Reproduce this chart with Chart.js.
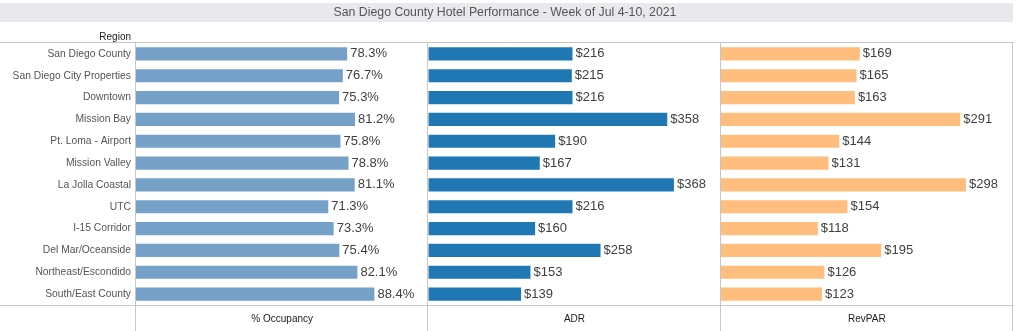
<!DOCTYPE html>
<html>
<head>
<meta charset="utf-8">
<script src="https://cdn.jsdelivr.net/npm/chart.js@4/dist/chart.umd.min.js"></script>
<style>
  html, body { margin: 0; padding: 0; background: #ffffff; }
  #wrap { position: relative; width: 1024px; height: 331px; }
</style>
</head>
<body>
<div id="wrap"><canvas id="chart" width="1024" height="331"></canvas></div>
<script>
// Hotel performance by region, week of Jul 4-10, 2021
const chartTitle = 'San Diego County Hotel Performance - Week of Jul 4-10, 2021';
const rowHeader = 'Region';
const regions = [
  'San Diego County', 'San Diego City Properties', 'Downtown', 'Mission Bay',
  'Pt. Loma - Airport', 'Mission Valley', 'La Jolla Coastal', 'UTC',
  'I-15 Corridor', 'Del Mar/Oceanside', 'Northeast/Escondido', 'South/East County'
];
const measures = ['% Occupancy', 'ADR', 'RevPAR'];
const occupancy = [78.3, 76.7, 75.3, 81.2, 75.8, 78.8, 81.1, 71.3, 73.3, 75.4, 82.1, 88.4];
const adr = [216, 215, 216, 358, 190, 167, 368, 216, 160, 258, 153, 139];
const revpar = [169, 165, 163, 291, 144, 131, 298, 154, 118, 195, 126, 123];

const FONT = "'Liberation Sans', Arial, sans-serif";
const LINE = '#c6c6c6';

const fmtPct = v => v.toFixed(1) + '%';
const fmtUsd = v => '$' + v;

// Each measure gets its own x scale; scales share one stack so they sit side by side.
function panelScale(title, max) {
  return {
    type: 'linear',
    position: 'bottom',
    stack: 'measures',
    stackWeight: 1,
    min: 0,
    max: max,
    grid: { display: false, drawTicks: false },
    border: { display: false },
    ticks: { display: false },
    title: {
      display: true,
      text: title,
      color: '#1a1a1a',
      font: { family: FONT, size: 10 },
      padding: { top: 0, bottom: 6 }
    },
    afterFit: s => { s.height = 26; }
  };
}

// Frame: title band, row header, panel borders
const framePlugin = {
  id: 'frame',
  beforeDraw(chart) {
    const ctx = chart.ctx;
    const area = chart.chartArea;
    ctx.save();
    ctx.fillStyle = '#e9e9ed';
    ctx.fillRect(0, 3, area.right, 19);
    ctx.fillStyle = '#555555';
    ctx.font = '12.3px ' + FONT;
    ctx.textAlign = 'center';
    ctx.textBaseline = 'middle';
    ctx.fillText(chartTitle, 505, 13);
    ctx.fillStyle = '#1a1a1a';
    ctx.font = '10px ' + FONT;
    ctx.textAlign = 'right';
    ctx.fillText(rowHeader, area.left - 5, 37);
    ctx.restore();
  },
  afterDraw(chart) {
    const ctx = chart.ctx;
    const area = chart.chartArea;
    const H = chart.height;
    ctx.save();
    ctx.strokeStyle = LINE;
    ctx.lineWidth = 1;
    ctx.beginPath();
    const top = area.top - 0.5;
    ctx.moveTo(0, top); ctx.lineTo(area.right + 0.5, top);
    ctx.moveTo(0, area.bottom + 0.5); ctx.lineTo(area.right + 0.5, area.bottom + 0.5);
    const xs = ['xOcc', 'xAdr', 'xRev'].map(id => chart.scales[id].left);
    xs.push(area.right);
    xs.forEach(x => {
      const px = Math.round(x) - 0.5;
      ctx.moveTo(px, top); ctx.lineTo(px, H);
    });
    ctx.stroke();
    ctx.restore();
  }
};

// Value labels at the end of each bar
const valueLabels = {
  id: 'valueLabels',
  afterDatasetsDraw(chart) {
    const ctx = chart.ctx;
    ctx.save();
    ctx.font = '13px ' + FONT;
    ctx.fillStyle = '#404040';
    ctx.textAlign = 'left';
    ctx.textBaseline = 'middle';
    chart.data.datasets.forEach((ds, i) => {
      const meta = chart.getDatasetMeta(i);
      meta.data.forEach((bar, j) => {
        ctx.fillText(ds.format(ds.data[j]), bar.x + 3, bar.y);
      });
    });
    ctx.restore();
  }
};

const barCommon = { grouped: false, categoryPercentage: 1, barPercentage: 0.6, borderWidth: 0 };

new Chart(document.getElementById('chart'), {
  type: 'bar',
  data: {
    labels: regions,
    datasets: [
      Object.assign({ label: measures[0], data: occupancy, xAxisID: 'xOcc', backgroundColor: '#75a1c8', format: fmtPct }, barCommon),
      Object.assign({ label: measures[1], data: adr, xAxisID: 'xAdr', backgroundColor: '#1f77b4', format: fmtUsd }, barCommon),
      Object.assign({ label: measures[2], data: revpar, xAxisID: 'xRev', backgroundColor: '#ffbe7d', format: fmtUsd }, barCommon)
    ]
  },
  options: {
    indexAxis: 'y',
    responsive: false,
    animation: false,
    devicePixelRatio: 1,
    layout: { padding: { top: 43, right: 11, left: 0, bottom: 0 } },
    plugins: {
      legend: { display: false },
      title: { display: false },
      tooltip: { enabled: false }
    },
    scales: {
      y: {
        type: 'category',
        position: 'left',
        grid: { display: false, drawTicks: false },
        border: { display: false },
        ticks: {
          color: '#555555',
          font: { family: FONT, size: 10.3 },
          padding: 5,
          autoSkip: false
        },
        afterFit: s => { s.width = 136; }
      },
      xOcc: panelScale(measures[0], 108.4),
      xAdr: panelScale(measures[1], 438),
      xRev: panelScale(measures[2], 355)
    }
  },
  plugins: [framePlugin, valueLabels]
});
</script>
</body>
</html>
